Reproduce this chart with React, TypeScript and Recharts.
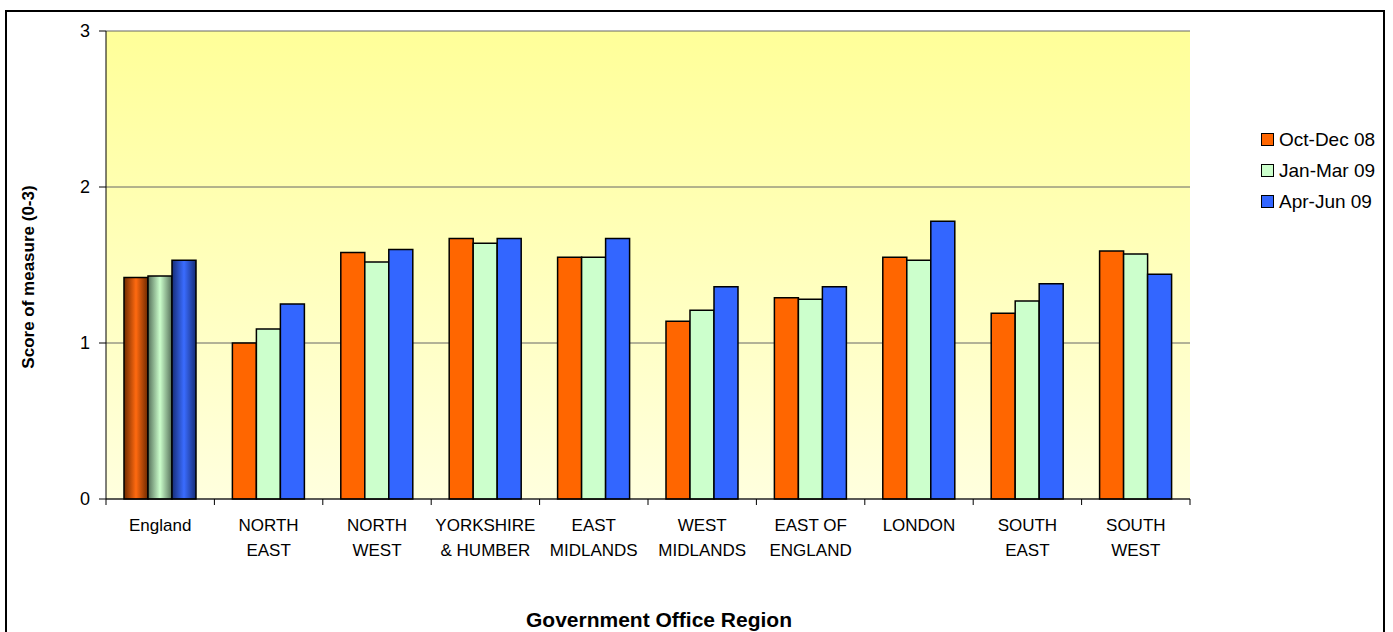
import React from "react";
import {
  BarChart,
  Bar,
  XAxis,
  YAxis,
  CartesianGrid,
  Cell,
  Label,
} from "recharts";

const regions = [
  "England",
  "NORTH EAST",
  "NORTH WEST",
  "YORKSHIRE & HUMBER",
  "EAST MIDLANDS",
  "WEST MIDLANDS",
  "EAST OF ENGLAND",
  "LONDON",
  "SOUTH EAST",
  "SOUTH WEST",
];
const tickLines = [
  ["England"],
  ["NORTH", "EAST"],
  ["NORTH", "WEST"],
  ["YORKSHIRE", "& HUMBER"],
  ["EAST", "MIDLANDS"],
  ["WEST", "MIDLANDS"],
  ["EAST OF", "ENGLAND"],
  ["LONDON"],
  ["SOUTH", "EAST"],
  ["SOUTH", "WEST"],
];
const octDec08 = [1.42, 1.0, 1.58, 1.67, 1.55, 1.14, 1.29, 1.55, 1.19, 1.59];
const janMar09 = [1.43, 1.09, 1.52, 1.64, 1.55, 1.21, 1.28, 1.53, 1.27, 1.57];
const aprJun09 = [1.53, 1.25, 1.6, 1.67, 1.67, 1.36, 1.36, 1.78, 1.38, 1.44];
const yTicks = [0, 1, 2, 3];

const series = [
  { key: "octDec08", name: "Oct-Dec 08", color: "#FF6600", grad: "gOrange" },
  { key: "janMar09", name: "Jan-Mar 09", color: "#CCFFCC", grad: "gGreen" },
  { key: "aprJun09", name: "Apr-Jun 09", color: "#3366FF", grad: "gBlue" },
];

const data = regions.map((r, i) => ({
  region: r,
  octDec08: octDec08[i],
  janMar09: janMar09[i],
  aprJun09: aprJun09[i],
}));

const FONT = "'Liberation Sans', Arial, sans-serif";
const PLOT_LEFT = 106;
const PLOT_RIGHT = 1190;
const BAND = (PLOT_RIGHT - PLOT_LEFT) / regions.length;

function RegionTick(props: any) {
  const { x, y, index } = props;
  const lines = tickLines[index] || [];
  const half = BAND / 2;
  return (
    <g>
      <line x1={x - half} x2={x - half} y1={y} y2={y + 6} stroke="#000" />
      {index === regions.length - 1 && (
        <line x1={x + half} x2={x + half} y1={y} y2={y + 6} stroke="#000" />
      )}
      {lines.map((t, i) => (
        <text
          key={i}
          x={x}
          y={y + 32 + i * 25}
          textAnchor="middle"
          fontSize={17}
          fontFamily={FONT}
          fill="#000"
        >
          {t}
        </text>
      ))}
    </g>
  );
}

function gradient(id: string, edge: string, mid: string) {
  return (
    <linearGradient id={id} x1="0" y1="0" x2="1" y2="0">
      <stop offset="0%" stopColor={edge} />
      <stop offset="50%" stopColor={mid} />
      <stop offset="100%" stopColor={edge} />
    </linearGradient>
  );
}

export default function App() {
  return (
    <div
      style={{
        position: "absolute",
        left: 0,
        top: 0,
        width: 1393,
        height: 632,
        overflow: "hidden",
        background: "#fff",
        fontFamily: FONT,
      }}
    >
      <div
        style={{
          position: "absolute",
          left: 5,
          top: 10,
          width: 1380,
          height: 700,
          border: "2px solid #000",
          boxSizing: "border-box",
        }}
      />
      <BarChart
        width={1393}
        height={632}
        data={data}
        margin={{ top: 31, right: 1393 - PLOT_RIGHT, bottom: 0, left: 46 }}
        barCategoryGap="16.6%"
        barGap={0}
        style={{ position: "absolute", left: 0, top: 0 }}
      >
        <defs>
          <linearGradient id="bgGrad" x1="0" y1="0" x2="0" y2="1">
            <stop offset="0%" stopColor="#FFFF99" />
            <stop offset="100%" stopColor="#FFFFDE" />
          </linearGradient>
          {gradient("gOrange", "#6E2A00", "#FF6A10")}
          {gradient("gGreen", "#55705A", "#CCFFCC")}
          {gradient("gBlue", "#172E78", "#3A6CFF")}
        </defs>
        <CartesianGrid
          vertical={false}
          stroke="#666"
          fill="url(#bgGrad)"
          fillOpacity={1}
        />
        <XAxis
          dataKey="region"
          height={133}
          interval={0}
          tickLine={false}
          tickSize={0}
          tickMargin={0}
          axisLine={{ stroke: "#000" }}
          tick={<RegionTick />}
        >
          <Label
            content={(p: any) => (
              <text
                x={p.viewBox.x + p.viewBox.width / 2 + 11}
                y={627}
                textAnchor="middle"
                fontSize={21}
                fontWeight="bold"
                fontFamily={FONT}
                fill="#000"
              >
                Government Office Region
              </text>
            )}
          />
        </XAxis>
        <YAxis
          domain={[0, 3]}
          ticks={yTicks}
          width={60}
          tickSize={7}
          tickMargin={9}
          axisLine={{ stroke: "#000" }}
          tickLine={{ stroke: "#000" }}
          tick={{ fontSize: 18, fill: "#000", fontFamily: FONT }}
        >
          <Label
            content={() => (
              <text
                x={28}
                y={277}
                transform="rotate(-90 28 277)"
                textAnchor="middle"
                dominantBaseline="central"
                fontSize={17}
                fontWeight="bold"
                fontFamily={FONT}
                fill="#000"
              >
                Score of measure (0-3)
              </text>
            )}
          />
        </YAxis>
        <YAxis
          yAxisId="right"
          orientation="right"
          domain={[0, 3]}
          width={0}
          tick={false}
          tickLine={false}
          axisLine={{ stroke: "#888" }}
        />
        {series.map((s) => (
          <Bar
            key={s.key}
            dataKey={s.key}
            name={s.name}
            fill={s.color}
            stroke="#000"
            strokeWidth={1.5}
            isAnimationActive={false}
          >
            {data.map((d, i) => (
              <Cell
                key={d.region}
                fill={i === 0 ? `url(#${s.grad})` : s.color}
              />
            ))}
          </Bar>
        ))}
      </BarChart>
      <div style={{ position: "absolute", left: 1261, top: 124 }}>
        {series.map((s) => (
          <div
            key={s.key}
            style={{
              display: "flex",
              alignItems: "center",
              height: 31,
              fontSize: 19,
              color: "#000",
              whiteSpace: "nowrap",
            }}
          >
            <span
              style={{
                display: "inline-block",
                width: 11,
                height: 11,
                background: s.color,
                border: "1px solid #000",
                marginRight: 5,
              }}
            />
            {s.name}
          </div>
        ))}
      </div>
    </div>
  );
}
